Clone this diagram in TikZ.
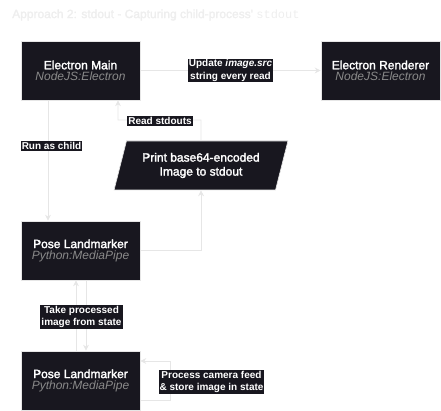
\documentclass[tikz,border=0pt]{standalone}
\usepackage{fontspec}
\setmainfont{Liberation Sans}
\setmonofont{Liberation Mono}
\newfontfamily\mediumfont[FakeBold=2]{Liberation Sans}
\usepackage{xcolor}
\usepackage{tikz}
\usetikzlibrary{arrows.meta}
\usetikzlibrary{shapes.geometric}

\definecolor{boxbg}{HTML}{18171F}
\definecolor{edgegray}{HTML}{E6E6E6}
\definecolor{subgray}{HTML}{8A8A8A}
\definecolor{titlegray}{HTML}{EEEEEE}

\tikzset{
  procbox/.style={draw=edgegray, line width=0.6pt, fill=boxbg, text=white,
    minimum width=119pt, minimum height=59pt, align=center, inner sep=0pt},
  printbox/.style={procbox, trapezium, trapezium left angle=68.8,
    trapezium right angle=111.2, trapezium stretches=true,
    minimum width=174pt, minimum height=49pt},
  link/.style={draw=edgegray, line width=0.8pt,
    -{Stealth[length=6pt,width=6pt]}},
  edgelabel/.style={fill=boxbg, text=white, inner sep=1pt, align=center,
    font=\fontsize{10}{12.5}\selectfont\bfseries},
}

\newcommand{\boxtitle}[2]{{\fontsize{12}{15}\selectfont\mediumfont #1}\\[-1pt]
  {\fontsize{12}{15}\selectfont\itshape\color{subgray}#2}}

\begin{document}
\begin{tikzpicture}[x=1pt,y=-1pt]
    \useasboundingbox (0,0) rectangle (441,411);
    %
    \node[anchor=west, text=titlegray, inner sep=0pt,
      font=\fontsize{12}{14}\selectfont\mediumfont] (title) at (12,15)
      {Approach 2: stdout - Capturing child-process\textquotesingle{} {\ttfamily stdout}};
    %
    \node[procbox] (main) at (80.5,70.5) {\boxtitle{Electron Main}{NodeJS:Electron}};
    \node[procbox] (renderer) at (380.5,70.5) {\boxtitle{Electron Renderer}{NodeJS:Electron}};
    \node[printbox, font=\fontsize{12}{14}\selectfont\mediumfont] (print) at (201,165.5)
      {Print base64-encoded\\Image to stdout};
    \node[procbox] (pose1) at (80.5,250.5) {\boxtitle{Pose Landmarker}{Python:MediaPipe}};
    \node[procbox] (pose2) at (80.5,380.5) {\boxtitle{Pose Landmarker}{Python:MediaPipe}};
    %
    \coordinate (readturn) at (201,120);
    \coordinate (loopright) at (170,400);
    \coordinate (looptop) at (170,361);
    %
    \draw[link] (main.east) -- (renderer.west)
      node[edgelabel, midway] (updatelbl) {Update \textit{image.src}\\string every read};
    \draw[link] ([xshift=-32.5pt]main.south) -- ([xshift=-32.5pt]pose1.north);
    \node[edgelabel] (childlbl) at (51.5,146) {Run as child};
    \draw[link] (print.north) -- (readturn) -| ([xshift=37.5pt]main.south);
    \node[edgelabel] (readlbl) at (160,121) {Read stdouts};
    \draw[link] (pose1.east) -| (print.south);
    \draw[link] ([xshift=-4.5pt]pose2.north) -- ([xshift=-4.5pt]pose1.south);
    \draw[link] ([xshift=5.5pt]pose1.south) -- ([xshift=5.5pt]pose2.north);
    \node[edgelabel] (takelbl) at (81.5,317) {Take processed\\image from state};
    \draw[link] (pose2.east |- loopright) -- (loopright) -- (looptop) -- (pose2.east |- looptop);
    \node[edgelabel] (processlbl) at (211.5,382) {Process camera feed\\\& store image in state};
  \end{tikzpicture}
\end{document}
